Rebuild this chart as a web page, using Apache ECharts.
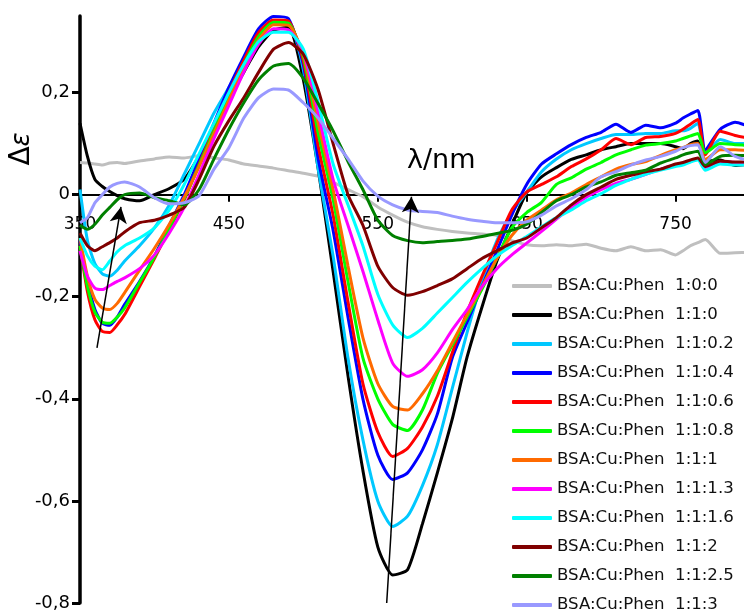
<!DOCTYPE html>
<html><head><meta charset="utf-8">
<script src="https://cdn.jsdelivr.net/npm/echarts@6/dist/echarts.min.js"></script>
<style>html,body{margin:0;padding:0;background:#fff}#c{width:744px;height:615px}</style>
</head><body><div id="c"></div>
<script>
// wavelength samples (nm)
const NM = [350,355,360,365,370,375,380,390,400,410,420,430,440,450,460,470,480,490,500,510,520,530,540,550,560,570,580,590,600,610,620,630,640,650,660,670,680,690,700,710,720,730,740,750,755,760,765,770,780,790,800];

const SERIES_NAMES = ['BSA:Cu:Phen  1:0:0','BSA:Cu:Phen  1:1:0','BSA:Cu:Phen  1:1:0.2','BSA:Cu:Phen  1:1:0.4','BSA:Cu:Phen  1:1:0.6','BSA:Cu:Phen  1:1:0.8','BSA:Cu:Phen  1:1:1','BSA:Cu:Phen  1:1:1.3','BSA:Cu:Phen  1:1:1.6','BSA:Cu:Phen  1:1:2','BSA:Cu:Phen  1:1:2.5','BSA:Cu:Phen  1:1:3'];
const COLORS = ['#BFBFBF','#000000','#00C8FF','#0000FF','#FF0000','#00FF00','#FF6A00','#FF00FF','#00FFFF','#800000','#008000','#9999FF'];

const R_1_0_0 = [0.063,0.062,0.060,0.058,0.062,0.063,0.061,0.066,0.070,0.074,0.072,0.076,0.072,0.068,0.060,0.056,0.052,0.047,0.042,0.036,0.024,0.010,-0.004,-0.024,-0.040,-0.054,-0.063,-0.068,-0.072,-0.075,-0.077,-0.080,-0.090,-0.098,-0.100,-0.098,-0.100,-0.097,-0.105,-0.110,-0.102,-0.110,-0.108,-0.118,-0.110,-0.100,-0.094,-0.088,-0.115,-0.114,-0.113];
const R_1_1_0 = [0.140,0.075,0.030,0.016,0.006,-0.002,-0.008,-0.012,0.000,0.012,0.030,0.075,0.130,0.185,0.240,0.290,0.322,0.328,0.225,0.050,-0.150,-0.355,-0.540,-0.690,-0.745,-0.735,-0.645,-0.545,-0.440,-0.318,-0.220,-0.130,-0.060,0.004,0.035,0.053,0.069,0.078,0.088,0.094,0.100,0.100,0.100,0.094,0.090,0.100,0.105,0.065,0.068,0.057,0.060];
const R_1_1_02 = [0.010,-0.090,-0.135,-0.155,-0.160,-0.148,-0.130,-0.100,-0.065,-0.020,0.040,0.100,0.160,0.210,0.260,0.305,0.338,0.338,0.245,0.050,-0.120,-0.320,-0.480,-0.600,-0.650,-0.630,-0.570,-0.490,-0.380,-0.270,-0.170,-0.090,-0.035,0.005,0.045,0.070,0.088,0.100,0.110,0.118,0.118,0.120,0.120,0.125,0.125,0.130,0.140,0.080,0.108,0.100,0.100];
const R_1_1_04 = [-0.090,-0.170,-0.225,-0.252,-0.256,-0.240,-0.215,-0.170,-0.120,-0.060,0.000,0.070,0.140,0.210,0.270,0.325,0.349,0.345,0.255,0.070,-0.070,-0.240,-0.400,-0.510,-0.558,-0.545,-0.500,-0.430,-0.320,-0.250,-0.180,-0.110,-0.040,0.020,0.060,0.080,0.098,0.112,0.122,0.138,0.122,0.136,0.131,0.140,0.150,0.158,0.165,0.088,0.128,0.142,0.133];
const R_1_1_06 = [-0.100,-0.190,-0.245,-0.268,-0.270,-0.255,-0.235,-0.180,-0.125,-0.068,-0.010,0.060,0.130,0.200,0.263,0.318,0.342,0.340,0.262,0.095,-0.040,-0.210,-0.370,-0.465,-0.513,-0.497,-0.455,-0.395,-0.310,-0.230,-0.160,-0.095,-0.030,0.005,0.020,0.035,0.055,0.070,0.088,0.110,0.098,0.112,0.114,0.120,0.128,0.138,0.147,0.078,0.124,0.116,0.110];
const R_1_1_08 = [-0.100,-0.180,-0.230,-0.250,-0.252,-0.240,-0.222,-0.172,-0.122,-0.066,-0.008,0.058,0.125,0.192,0.255,0.310,0.338,0.336,0.270,0.120,-0.010,-0.170,-0.320,-0.400,-0.450,-0.462,-0.422,-0.350,-0.295,-0.240,-0.185,-0.125,-0.065,-0.035,-0.015,0.020,0.033,0.050,0.063,0.078,0.088,0.097,0.100,0.105,0.110,0.115,0.120,0.082,0.100,0.098,0.096];
const R_1_1_1 = [-0.085,-0.160,-0.205,-0.222,-0.225,-0.213,-0.192,-0.148,-0.105,-0.058,-0.005,0.055,0.120,0.185,0.248,0.303,0.333,0.332,0.275,0.140,0.010,-0.140,-0.280,-0.370,-0.415,-0.422,-0.390,-0.345,-0.290,-0.235,-0.180,-0.125,-0.080,-0.050,-0.030,-0.010,0.003,0.020,0.035,0.050,0.059,0.065,0.077,0.088,0.092,0.098,0.100,0.069,0.088,0.088,0.086];
const R_1_1_13 = [-0.110,-0.160,-0.183,-0.186,-0.178,-0.170,-0.163,-0.145,-0.118,-0.075,-0.025,0.040,0.110,0.175,0.240,0.295,0.325,0.323,0.280,0.160,0.030,-0.060,-0.150,-0.245,-0.330,-0.356,-0.343,-0.310,-0.265,-0.225,-0.180,-0.145,-0.118,-0.095,-0.072,-0.048,-0.025,-0.005,0.010,0.022,0.030,0.040,0.050,0.058,0.060,0.065,0.070,0.053,0.065,0.063,0.062];
const R_1_1_16 = [-0.085,-0.120,-0.140,-0.147,-0.130,-0.112,-0.100,-0.085,-0.065,-0.030,0.020,0.080,0.140,0.200,0.255,0.300,0.318,0.318,0.285,0.180,0.060,-0.020,-0.100,-0.195,-0.255,-0.280,-0.262,-0.232,-0.202,-0.172,-0.145,-0.120,-0.100,-0.082,-0.063,-0.045,-0.030,-0.012,0.002,0.018,0.030,0.040,0.048,0.055,0.058,0.064,0.068,0.048,0.060,0.058,0.058];
const R_1_1_2 = [-0.075,-0.100,-0.110,-0.102,-0.094,-0.085,-0.073,-0.055,-0.050,-0.040,-0.025,0.030,0.095,0.145,0.190,0.240,0.285,0.298,0.275,0.205,0.100,0.000,-0.060,-0.140,-0.182,-0.197,-0.190,-0.178,-0.165,-0.145,-0.125,-0.110,-0.095,-0.085,-0.065,-0.045,-0.020,0.000,0.015,0.030,0.038,0.045,0.050,0.060,0.063,0.068,0.072,0.055,0.066,0.064,0.064];
const R_1_1_25 = [-0.060,-0.068,-0.058,-0.040,-0.025,-0.010,0.000,0.003,-0.006,-0.012,-0.020,0.010,0.070,0.128,0.180,0.225,0.252,0.257,0.228,0.178,0.125,0.065,0.010,-0.050,-0.080,-0.090,-0.094,-0.092,-0.090,-0.087,-0.082,-0.076,-0.070,-0.058,-0.035,-0.012,0.000,0.015,0.025,0.038,0.043,0.048,0.062,0.072,0.078,0.082,0.085,0.059,0.075,0.077,0.076];
const R_1_1_3 = [-0.055,-0.045,-0.016,0.000,0.015,0.022,0.025,0.015,-0.006,-0.018,-0.016,-0.002,0.050,0.092,0.150,0.190,0.207,0.205,0.180,0.150,0.110,0.070,0.027,-0.003,-0.020,-0.030,-0.033,-0.035,-0.042,-0.048,-0.052,-0.055,-0.055,-0.053,-0.040,-0.022,-0.008,0.010,0.035,0.045,0.058,0.068,0.075,0.085,0.092,0.096,0.098,0.063,0.094,0.075,0.066];

const X_TICKS = [350,450,550,650,750];
const Y_TICKS = [-0.8,-0.6,-0.4,-0.2,0,0.2];
// annotation arrows: [from, to] in (nm, Δε)
const ARROWS = [[[361.4,-0.300],[377.5,-0.024]], [[556.0,-0.800],[572.6,-0.004]]];

const VALUES = [R_1_0_0,R_1_1_0,R_1_1_02,R_1_1_04,R_1_1_06,R_1_1_08,R_1_1_1,R_1_1_13,R_1_1_16,R_1_1_2,R_1_1_25,R_1_1_3];

const W = 744, H = 615;
const GRID = { left: 80, right: -6, top: 16, bottom: 12 };
const Y_MIN = -0.8, Y_MAX = 0.35;
// place the x axis line on the value 0 of the y axis
const ZERO_FROM_BOTTOM = (H - GRID.top - GRID.bottom) * (0 - Y_MIN) / (Y_MAX - Y_MIN);

const FONT = 'DejaVu Sans';
const series = VALUES.map((vals, i) => ({
  name: SERIES_NAMES[i],
  type: 'line',
  data: NM.map((x, k) => [x, vals[k]]),
  symbol: 'none',
  smooth: 0.2,
  lineStyle: { color: COLORS[i], width: 3 },
  itemStyle: { color: COLORS[i] },
  emphasis: { disabled: true },
  z: 2
}));
series.push({
  type: 'line', data: [], silent: true,
  markLine: {
    silent: true, animation: false,
    symbol: ['none', 'arrow'], symbolSize: [13, 16],
    lineStyle: { color: '#000', width: 1.5, type: 'solid' },
    label: { show: false },
    data: ARROWS.map(a => [{ coord: a[0] }, { coord: a[1] }])
  },
  z: 5
});

const chart = echarts.init(document.getElementById('c'));
chart.setOption({
  animation: false,
  backgroundColor: '#fff',
  grid: Object.assign({ containLabel: false, outerBoundsMode: 'none' }, GRID),
  xAxis: {
    type: 'value', min: 350, max: 800, interval: 100,
    position: 'bottom', offset: -ZERO_FROM_BOTTOM,
    axisLine: { onZero: false, lineStyle: { color: '#000', width: 2 } },
    axisTick: { show: true, length: 7, inside: false, lineStyle: { color: '#000', width: 2 }, customValues: X_TICKS },
    axisLabel: { customValues: X_TICKS, color: '#000', fontFamily: FONT, fontSize: 17, margin: 21 },
    splitLine: { show: false }
  },
  yAxis: {
    type: 'value', min: Y_MIN, max: Y_MAX, interval: 0.2,
    axisLine: { show: true, lineStyle: { color: '#000', width: 3.5 } },
    axisTick: { show: true, length: 8, lineStyle: { color: '#000', width: 3 }, customValues: Y_TICKS },
    axisLabel: { customValues: Y_TICKS, color: '#000', fontFamily: FONT, fontSize: 18, margin: 10,
      formatter: v => Math.abs(v) < 1e-9 ? '0' : v.toFixed(1).replace('.', ',') },
    splitLine: { show: false }
  },
  legend: {
    orient: 'vertical', left: 512, top: 277, padding: 0,
    icon: 'roundRect',
    itemWidth: 40, itemHeight: 4, itemGap: 11,
    textStyle: { fontFamily: FONT, fontSize: 16.6, color: '#111', lineHeight: 18, height: 18 },
    data: SERIES_NAMES
  },
  graphic: [
    { type: 'text', left: 407, top: 147, style: { text: 'λ/nm', font: '27px "DejaVu Sans"', fill: '#000' } },
    { type: 'text', x: 22, y: 149, rotation: Math.PI / 2,
      style: { text: '{a|Δ}{b|ε}', align: 'center', verticalAlign: 'middle',
        rich: { a: { fontFamily: FONT, fontSize: 28, color: '#000' }, b: { fontFamily: FONT, fontStyle: 'italic', fontSize: 26, color: '#000' } } } }
  ],
  series: series
});
</script></body></html>
